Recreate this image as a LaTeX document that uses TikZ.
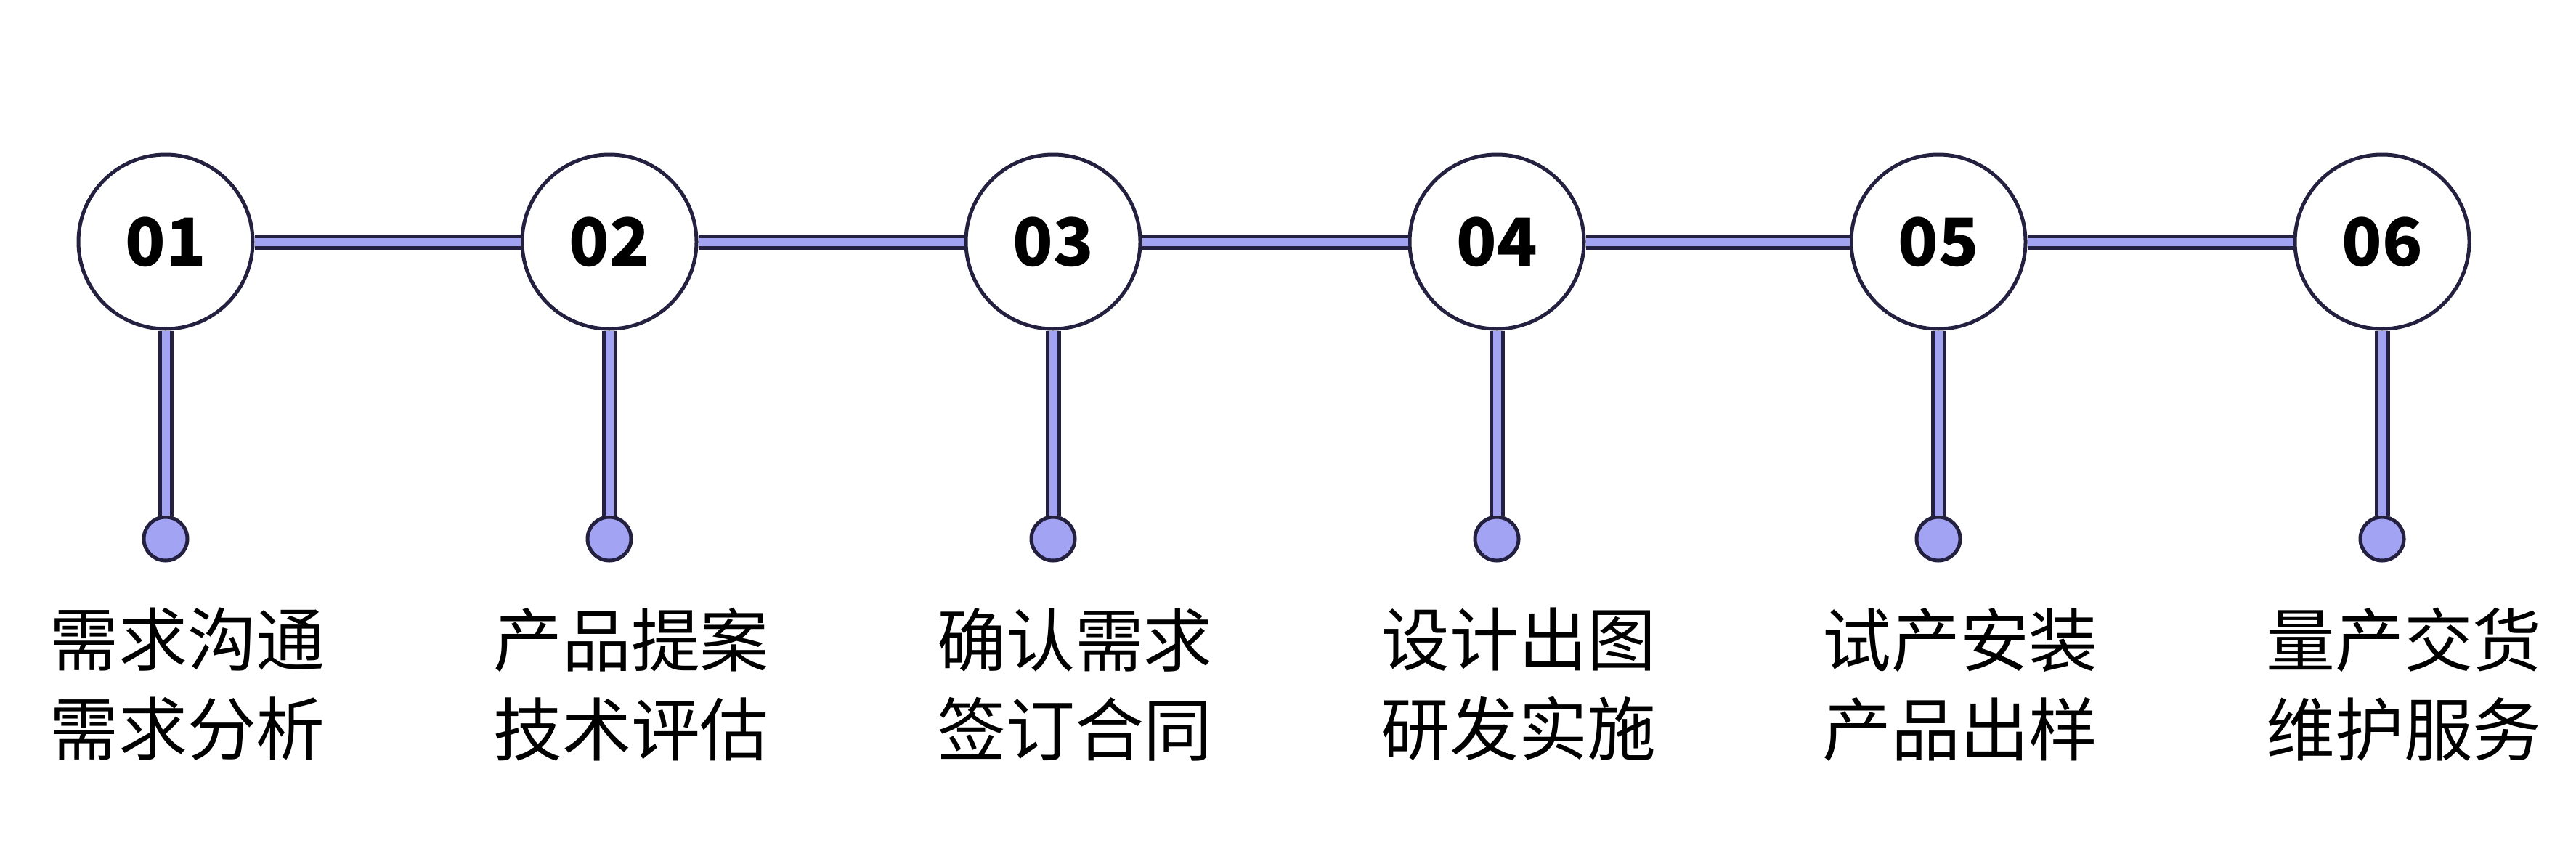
\documentclass[tikz,border=0pt]{standalone}
\usepackage{fontspec}
\setmainfont{Noto Sans CJK SC}
\usetikzlibrary{positioning}
\definecolor{barfill}{HTML}{A3A3F4}
\definecolor{ink}{HTML}{23213F}
\tikzset{
  stage/.style={circle, draw=ink, line width=0.05cm, fill=white, minimum size=2.4cm,
    inner sep=0pt, font=\fontsize{26}{30}\selectfont\bfseries},
  dot/.style={circle, draw=ink, line width=0.05cm, fill=barfill, minimum size=0.6cm, inner sep=0pt},
  bar/.style={draw=ink, line width=0.05cm, double=barfill, double distance=0.11cm},
  caption/.style={align=center, font=\fontsize{27}{35}\selectfont, inner sep=0pt}
}
\begin{document}
\begin{tikzpicture}
  \useasboundingbox (0,0) rectangle (35.47,11.82);

  % stages along the top
  \foreach \i/\x in {1/2.28, 2/8.39, 3/14.50, 4/20.61, 5/26.69, 6/32.80} {
    \node[stage] (c\i) at (\x,8.49) {0\i};
    \node[dot] (d\i) at (\x,4.40) {};
  }

  % horizontal links
  \foreach \i/\j in {1/2, 2/3, 3/4, 4/5, 5/6}
    \draw[bar] (c\i) -- (c\j);

  % drops to the dots
  \foreach \i in {1,...,6}
    \draw[bar] (c\i) -- (d\i);

  % texts under the dots
  \node[caption, below=0.62cm of d1, xshift=0.30cm] (t1) {需求沟通\\需求分析};
  \node[caption, below=0.62cm of d2, xshift=0.30cm] (t2) {产品提案\\技术评估};
  \node[caption, below=0.62cm of d3, xshift=0.30cm] (t3) {确认需求\\签订合同};
  \node[caption, below=0.62cm of d4, xshift=0.30cm] (t4) {设计出图\\研发实施};
  \node[caption, below=0.62cm of d5, xshift=0.30cm] (t5) {试产安装\\产品出样};
  \node[caption, below=0.62cm of d6, xshift=0.30cm] (t6) {量产交货\\维护服务};
\end{tikzpicture}
\end{document}
